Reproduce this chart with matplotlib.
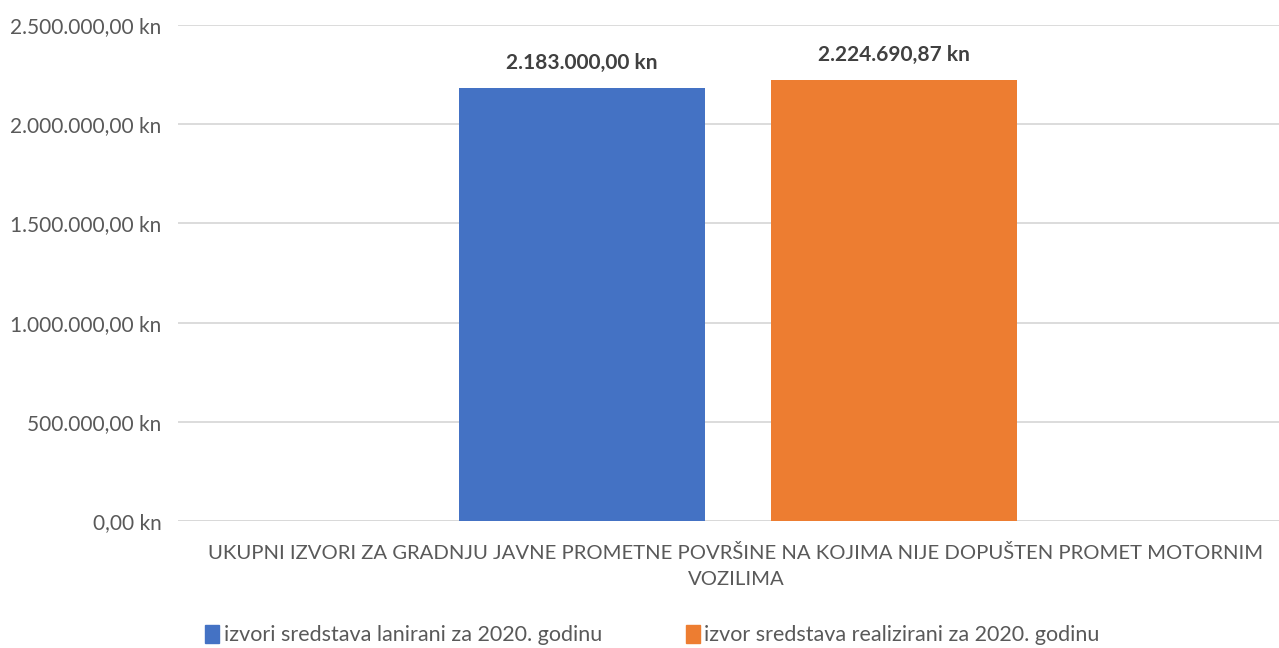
import matplotlib.pyplot as plt
from matplotlib.ticker import FuncFormatter
from matplotlib.patches import Patch

category = "UKUPNI IZVORI ZA GRADNJU JAVNE PROMETNE POVRŠINE NA KOJIMA NIJE DOPUŠTEN PROMET MOTORNIM\nVOZILIMA"
series_names = ["izvori sredstava lanirani za 2020. godinu",
                "izvor sredstava realizirani za 2020. godinu"]
values = [2183000.00, 2224690.87]
colors = ["#4472C4", "#ED7D31"]
y_ticks = [0, 500000, 1000000, 1500000, 2000000, 2500000]

plt.rcParams['font.family'] = ['Lato', 'DejaVu Sans']


def kn(v, pos=None):
    s = f"{v:,.2f}"
    s = s.replace(",", "X").replace(".", ",").replace("X", ".")
    return s + " kn"


fig = plt.figure(figsize=(12.79, 6.48), dpi=100)
ax = fig.add_axes([178 / 1279, 1 - 521 / 648, 1101 / 1279, 496 / 648])

offsets = [-0.133, 0.150]
width = 0.2234
for off, v, c in zip(offsets, values, colors):
    ax.bar(off, v, width=width, color=c, zorder=2)
    ax.text(off, v + 75000, kn(v), ha='center', va='bottom',
            fontsize=15, fontweight='bold', color='#404040')

ax.set_xlim(-0.5, 0.5)
ax.set_ylim(0, 2500000)
ax.set_yticks(y_ticks)
ax.yaxis.set_major_formatter(FuncFormatter(kn))
ax.tick_params(axis='y', length=0, labelsize=15, labelcolor='#595959', pad=12)
ax.set_xticks([])
ax.grid(axis='y', color='#D9D9D9', linewidth=1.3, zorder=0)
for sp in ax.spines.values():
    sp.set_visible(False)
ax.axhline(0, color='#D9D9D9', linewidth=1.3, zorder=1)

fig.text(736 / 1279, 1 - 566 / 648, category, ha='center', va='center',
         fontsize=14.6, color='#595959', linespacing=1.6)

handles = [Patch(color=c) for c in colors]
fig.legend(handles, series_names, loc='center left',
           bbox_to_anchor=(186 / 1279, 1 - 635 / 648), ncol=2, frameon=False,
           fontsize=15.5, labelcolor='#595959', handlelength=0.65, handleheight=0.9,
           handletextpad=0.2, columnspacing=3.9)

fig.savefig("out.png", dpi=100)
